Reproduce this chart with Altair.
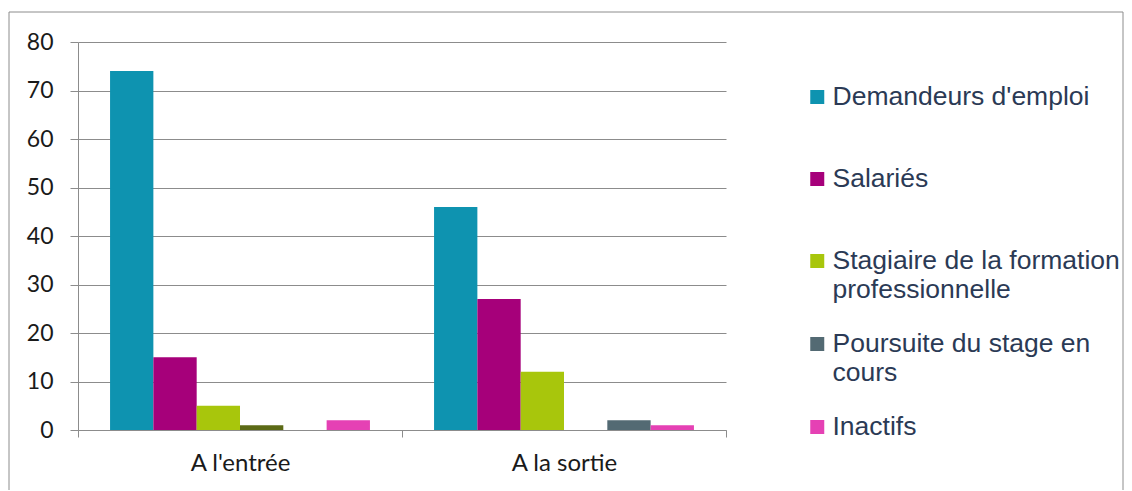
import altair as alt
import pandas as pd

categories = ["A l'entrée", "A la sortie"]
series = ["Demandeurs d'emploi", "Salariés", "Stagiaire de la formation professionnelle",
          "Autre", "Poursuite du stage en cours", "Inactifs"]
legend_series = ["Demandeurs d'emploi", "Salariés", "Stagiaire de la formation professionnelle",
                 "Poursuite du stage en cours", "Inactifs"]
colors = ["#0E93B0", "#A6007A", "#A8C60C", "#5C6A16", "#536A73", "#E541B4"]
entree = [74, 15, 5, 1, 0, 2]
sortie = [46, 27, 12, 0, 2, 1]

rows = []
for s, a, b in zip(series, entree, sortie):
    rows.append({"cat": categories[0], "serie": s, "val": a})
    rows.append({"cat": categories[1], "serie": s, "val": b})
df = pd.DataFrame(rows)

label_expr = ("datum.label == 'Stagiaire de la formation professionnelle' ? ['Stagiaire de la formation', 'professionnelle'] : "
              "datum.label == 'Poursuite du stage en cours' ? ['Poursuite du stage en', 'cours'] : datum.label")

bars = alt.Chart(df).mark_bar().encode(
    x=alt.X("cat:N", sort=categories, title=None,
            scale=alt.Scale(paddingInner=0, paddingOuter=0),
            axis=alt.Axis(labelAngle=0, tickBand="extent", labelFont="Lato", labelFontSize=24,
                          labelColor="#1a1a1a", domainColor="#8c8c8c", tickColor="#8c8c8c",
                          tickSize=7, labelPadding=14, grid=False)),
    xOffset=alt.XOffset("serie:N", sort=series, scale=alt.Scale(paddingOuter=0.74, paddingInner=0)),
    y=alt.Y("val:Q", title=None, scale=alt.Scale(domain=[0, 80]),
            axis=alt.Axis(values=list(range(0, 81, 10)), labelFont="Lato", labelFontSize=23,
                          labelColor="#1a1a1a", domainColor="#8c8c8c", tickColor="#8c8c8c",
                          gridColor="#8c8c8c", tickSize=8, labelPadding=17)),
    color=alt.Color("serie:N", sort=series,
                    scale=alt.Scale(domain=series, range=colors),
                    legend=alt.Legend(title=None, values=legend_series, orient="none",
                                      legendX=726, legendY=14, symbolType="square",
                                      symbolSize=196, symbolStrokeWidth=0, labelFont="Liberation Sans",
                                      labelFontSize=26.5, labelColor="#2B3A55", labelLimit=400,
                                      clipHeight=82, rowPadding=0,
                                      labelExpr=label_expr, labelOffset=2)),
)

frame = alt.Chart(pd.DataFrame({"k": [0]})).mark_rect(fill=None, stroke="#8c8c8c", strokeWidth=1).encode(
    x=alt.value(-69), x2=alt.value(1045), y=alt.value(-30), y2=alt.value(470)
)

chart = alt.layer(frame, bars).properties(
    width=648, height=388,
    autosize=alt.AutoSizeParams(type="none"),
    padding={"left": 70, "top": 34, "right": 398, "bottom": 60},
).configure_view(stroke=None)

chart.save("out.html", embed_options={"renderer": "svg", "actions": False})
